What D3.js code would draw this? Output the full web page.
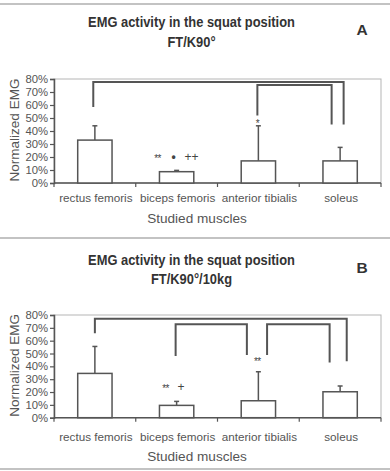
<!DOCTYPE html>
<html>
<head>
<meta charset="utf-8">
<script src="https://cdn.jsdelivr.net/npm/d3@7"></script>
<style>
  html, body { margin: 0; padding: 0; background: #fff; }
  svg { display: block; }
</style>
</head>
<body>
<svg id="chart" width="390" height="471"></svg>
<script>
// ---------------- data ----------------
const categories = ["rectus femoris", "biceps femoris", "anterior tibialis", "soleus"];
const yTicks = [0, 10, 20, 30, 40, 50, 60, 70, 80];
const yTickLabels = ["0%", "10%", "20%", "30%", "40%", "50%", "60%", "70%", "80%"];

const titlesA = ["EMG activity in the squat position", "FT/K90°"];
const titlesB = ["EMG activity in the squat position", "FT/K90°/10kg"];
const panelLetters = ["A", "B"];
const xTitle = "Studied muscles";
const yTitle = "Normalized EMG";

// mean % and upward error (SD) %
const meanA = [33, 8.7, 17, 17];
const errA  = [11, 1, 27, 10.4];
const meanB = [34.5, 9.6, 13.2, 20.2];
const errB  = [21, 3.1, 22.6, 4.5];

// brackets: [fromCategory, toCategory, topLevel, leftLegBottom, rightLegBottom]
const bracketsA = [[0, 3, 77.7, 58.5, 45], [2, 3, 75.4, 52, 45]];
const bracketsB = [[0, 3, 77, 65.7, 44], [1, 2, 72.7, 48, 48.8], [2, 3, 72.7, 48.8, 43]];

// annotations: [category, level, symbol]
const notesA = [[1, 20, "**"], [1, 20, "•"], [1, 20, "++"], [2, 47, "*"]];
const notesB = [[1, 23.6, "**"], [1, 23.6, "+"], [2, 45, "**"]];

// ---------------- layout (positions/styles only) ----------------
const panels = [
  { titles: titlesA, mean: meanA, err: errA, brackets: bracketsA, notes: notesA,
    top: 79, bottom: 183, t1: 27, t2: 46.5, letterY: 35,
    catY: 202, xTitleY: 223, yTitleX: 14,
    legDx: [[-1.6, 3.5], [-1, -8.5]],
    noteDx: [-19, -3, 15, -1] },
  { titles: titlesB, mean: meanB, err: errB, brackets: bracketsB, notes: notesB,
    top: 315, bottom: 417.7, t1: 265, t2: 283.5, letterY: 272.5,
    catY: 440.5, xTitleY: 461, yTitleX: 14,
    legDx: [[0, 6.6], [-1, -11.5], [8.7, -10.5]],
    noteDx: [-11, 4.5, -1] }
];
const left = 54, right = 381;
const sansFont = "'Liberation Sans', Arial, sans-serif";
const titleFont = "'Liberation Sans', Arial, sans-serif";
const textColor = "#555";
const lineColor = "#555";

const svg = d3.select("#chart");

// separators
[4, 238, 469].forEach(y => {
  svg.append("line").attr("x1", 0).attr("x2", 390).attr("y1", y).attr("y2", y)
    .attr("stroke", "#888").attr("stroke-width", 1.2);
});

panels.forEach((p, pi) => {
  const g = svg.append("g");
  const x = d3.scaleBand().domain(categories).range([left, right]).paddingInner(0).paddingOuter(0);
  const y = d3.scaleLinear().domain([0, 80]).range([p.bottom, p.top]);
  const barW = x.bandwidth() * 0.42;
  const cx = i => x(categories[i]) + x.bandwidth() / 2;

  // titles: bold, horizontally condensed to match reference width
  const tg1 = g.append("g");
  const t1 = tg1.append("text").attr("x", 0).attr("y", 0).attr("text-anchor", "middle")
    .attr("font-family", titleFont).attr("font-weight", "bold").attr("font-size", 15)
    .attr("fill", "#333").text(p.titles[0]);
  const sx = 207 / t1.node().getComputedTextLength();
  tg1.attr("transform", `translate(191.5,${p.t1}) scale(${sx},1)`);
  g.append("g").attr("transform", `translate(191.5,${p.t2}) scale(${sx},1)`)
    .append("text").attr("x", 0).attr("y", 0).attr("text-anchor", "middle")
    .attr("font-family", titleFont).attr("font-weight", "bold").attr("font-size", 15)
    .attr("fill", "#333").text(p.titles[1]);
  g.append("text").attr("x", 362).attr("y", p.letterY).attr("text-anchor", "middle")
    .attr("font-family", sansFont).attr("font-weight", "bold").attr("font-size", 15.5)
    .attr("fill", "#333").text(panelLetters[pi]);

  // plot frame
  g.append("rect").attr("x", left).attr("y", p.top).attr("width", right - left).attr("height", p.bottom - p.top)
    .attr("fill", "none").attr("stroke", "#b5b5b5").attr("stroke-width", 1);

  // y axis
  const yAxis = d3.axisLeft(y).tickValues(yTicks).tickFormat((d, i) => yTickLabels[i]).tickSize(4).tickPadding(2);
  const ya = g.append("g").attr("transform", `translate(${left},0)`).call(yAxis);
  ya.select(".domain").attr("stroke", lineColor).attr("stroke-width", 1.5);
  ya.selectAll(".tick line").attr("stroke", lineColor).attr("stroke-width", 1.2);
  ya.selectAll(".tick text").attr("font-family", sansFont).attr("font-size", 11.3).attr("fill", textColor);

  // x axis: tick marks at band boundaries
  g.append("line").attr("x1", left).attr("x2", right).attr("y1", p.bottom).attr("y2", p.bottom)
    .attr("stroke", lineColor).attr("stroke-width", 1.5);
  const bounds = categories.map(c => x(c)).concat([right]);
  g.selectAll(".xt").data(bounds).enter().append("line")
    .attr("x1", d => d).attr("x2", d => d).attr("y1", p.bottom).attr("y2", p.bottom + 4)
    .attr("stroke", lineColor).attr("stroke-width", 1.2);
  g.selectAll(".xl").data(categories).enter().append("text")
    .attr("x", d => x(d) + x.bandwidth() / 2 + 1).attr("y", p.catY).attr("text-anchor", "middle")
    .attr("font-family", sansFont).attr("font-size", 11.7).attr("fill", textColor).text(d => d);

  g.append("text").attr("x", 197).attr("y", p.xTitleY).attr("text-anchor", "middle")
    .attr("font-family", sansFont).attr("font-size", 13.6).attr("fill", textColor).text(xTitle);
  g.append("text").attr("transform", `translate(${p.yTitleX + 5},${(p.top + p.bottom) / 2 - 1}) rotate(-90)`)
    .attr("text-anchor", "middle").attr("font-family", sansFont).attr("font-size", 13.5)
    .attr("fill", textColor).text(yTitle);

  // error bars (upward only)
  categories.forEach((c, i) => {
    const top = y(p.mean[i] + p.err[i]);
    g.append("line").attr("x1", cx(i)).attr("x2", cx(i)).attr("y1", y(p.mean[i])).attr("y2", top)
      .attr("stroke", lineColor).attr("stroke-width", 1.5);
    g.append("line").attr("x1", cx(i) - 2.5).attr("x2", cx(i) + 2.5).attr("y1", top).attr("y2", top)
      .attr("stroke", lineColor).attr("stroke-width", 1.5);
  });

  // bars
  g.selectAll(".bar").data(p.mean).enter().append("rect")
    .attr("x", (d, i) => cx(i) - barW / 2).attr("width", barW)
    .attr("y", d => y(d)).attr("height", d => y(0) - y(d))
    .attr("fill", "#fff").attr("stroke", lineColor).attr("stroke-width", 1.5);

  // brackets
  p.brackets.forEach((b, bi) => {
    const x1 = cx(b[0]) + p.legDx[bi][0];
    const x2 = cx(b[1]) + p.legDx[bi][1];
    const path = d3.path();
    path.moveTo(x1, y(b[3]));
    path.lineTo(x1, y(b[2]));
    path.lineTo(x2, y(b[2]));
    path.lineTo(x2, y(b[4]));
    g.append("path").attr("d", path.toString()).attr("fill", "none")
      .attr("stroke", lineColor).attr("stroke-width", 2);
  });

  // annotations
  p.notes.forEach((n, ni) => {
    const sym = n[2];
    const isStar = sym.indexOf("*") >= 0;
    g.append("text").attr("x", cx(n[0]) + p.noteDx[ni]).attr("y", y(n[1]) + (isStar ? 5 : 4))
      .attr("text-anchor", "middle").attr("font-family", sansFont)
      .attr("font-size", isStar ? 10 : 12).attr("font-weight", sym === "•" ? "bold" : "normal")
      .attr("fill", "#444").attr("letter-spacing", isStar ? -0.5 : 0).text(sym);
  });
});
</script>
</body>
</html>
